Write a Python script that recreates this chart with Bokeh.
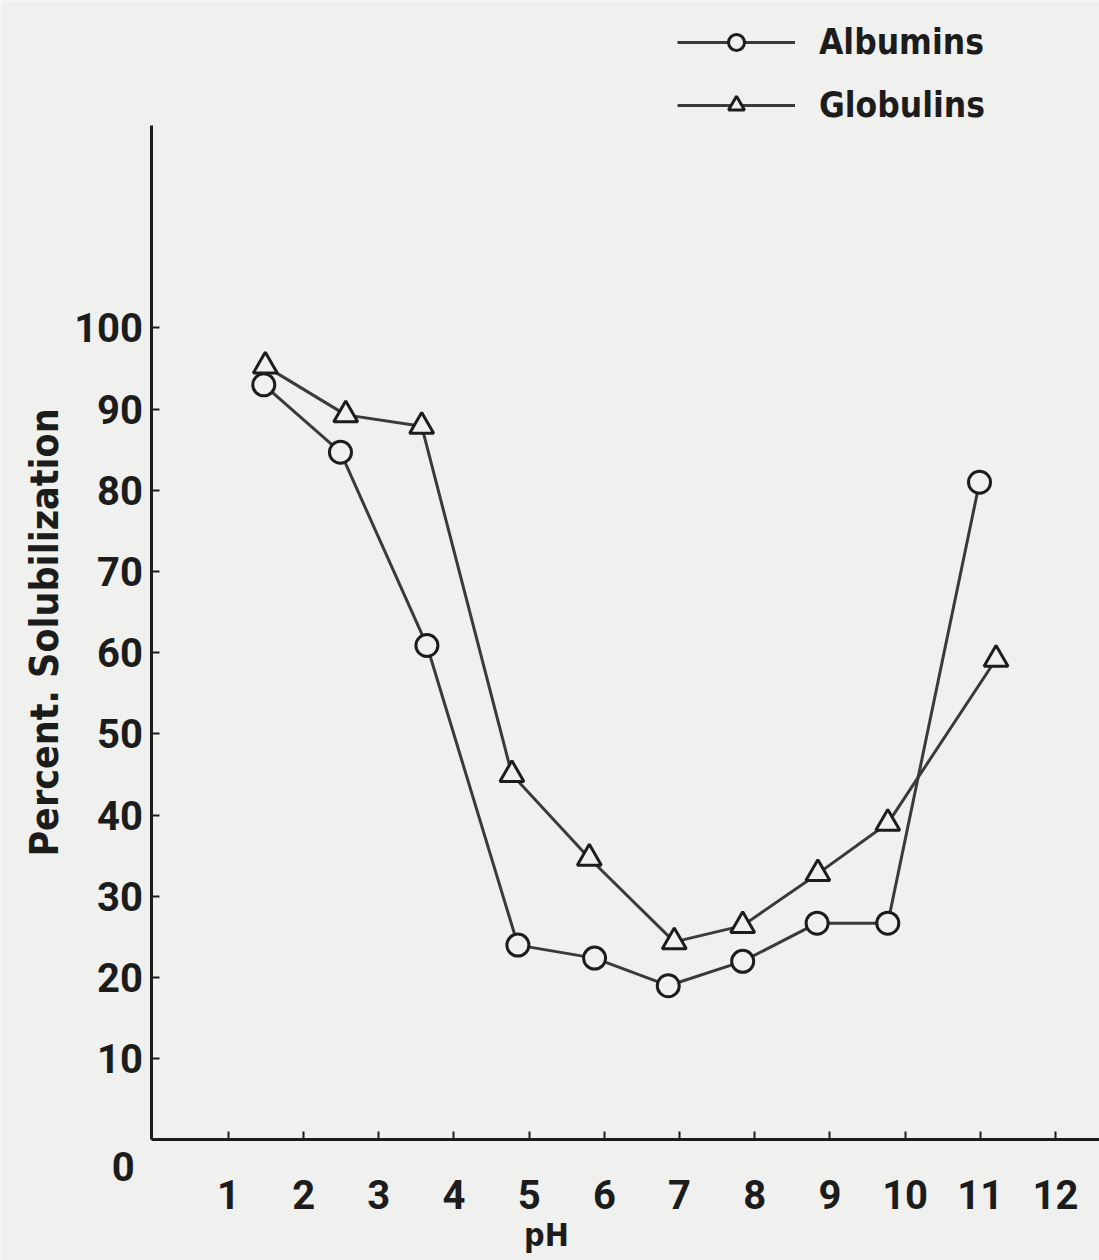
from bokeh.plotting import figure
from bokeh.models import Range1d, FixedTicker, Legend, LegendItem, Label, LinearAxis
from bokeh.embed import file_html
from bokeh.resources import INLINE

# ---- data ----
ph_albumins = [1.47, 2.49, 3.64, 4.85, 5.87, 6.85, 7.84, 8.83, 9.77, 10.99]
albumins = [93.0, 84.7, 60.9, 24.0, 22.4, 19.0, 22.0, 26.7, 26.7, 81.0]

ph_globulins = [1.49, 2.56, 3.57, 4.77, 5.80, 6.93, 7.84, 8.84, 9.77, 11.21]
globulins = [95.3, 89.3, 87.9, 45.0, 34.7, 24.4, 26.4, 32.8, 39.0, 59.2]

x_ticks = [1, 2, 3, 4, 5, 6, 7, 8, 9, 10, 11, 12]
y_ticks = [10, 20, 30, 40, 50, 60, 70, 80, 90, 100]

BG = "#f0f0ee"
INK = "#1c1c1c"
TICK_FONT = "Roboto"
TEXT_FONT = "DejaVu Sans Condensed"

p = figure(width=1099, height=1260, output_backend="svg", toolbar_location=None,
           x_range=Range1d(-2.032, 12.586), y_range=Range1d(-14.84, 140.33),
           x_axis_location=None, y_axis_location=None, min_border=0)
p.background_fill_color = BG
p.border_fill_color = BG
p.outline_line_color = None
p.grid.visible = False

xaxis = LinearAxis(fixed_location=0, bounds=(-0.03, 12.6),
                   ticker=FixedTicker(ticks=x_ticks))
yaxis = LinearAxis(fixed_location=-0.03, bounds=(0, 124.9),
                   ticker=FixedTicker(ticks=y_ticks))
p.add_layout(xaxis, "below")
p.add_layout(yaxis, "left")

for ax in (xaxis, yaxis):
    ax.axis_line_color = INK
    ax.axis_line_width = 3
    ax.major_tick_line_color = INK
    ax.major_tick_line_width = 2
    ax.major_tick_in = 8
    ax.major_tick_out = 0
    ax.minor_tick_line_color = None
    ax.major_label_text_font = TICK_FONT
    ax.major_label_text_font_style = "bold"
    ax.major_label_text_font_size = "40px"
    ax.major_label_text_color = INK

xaxis.major_label_standoff = 40
yaxis.major_label_standoff = 8

yaxis.axis_label = "Percent. Solubilization"
yaxis.axis_label_text_font = TEXT_FONT
yaxis.axis_label_text_font_style = "bold"
yaxis.axis_label_text_font_size = "39px"
yaxis.axis_label_text_color = INK
yaxis.axis_label_standoff = 5

# series
l_alb = p.line(ph_albumins, albumins, line_color="#3a3a3a", line_width=3)
s_alb = p.scatter(ph_albumins, albumins, marker="circle", size=22,
                  fill_color=BG, line_color=INK, line_width=3)
l_glob = p.line(ph_globulins, globulins, line_color="#3a3a3a", line_width=3)
s_glob = p.scatter(ph_globulins, globulins, marker="triangle", size=24,
                   fill_color=BG, line_color=INK, line_width=3)

legend = Legend(items=[LegendItem(label="Albumins", renderers=[l_alb, s_alb]),
                       LegendItem(label="Globulins", renderers=[l_glob, s_glob])],
                location=(677, 1135))
legend.background_fill_alpha = 0
legend.border_line_color = None
legend.label_text_font = TEXT_FONT
legend.label_text_font_style = "bold"
legend.label_text_font_size = "35px"
legend.label_text_color = INK
legend.glyph_width = 118
legend.glyph_height = 40
legend.label_height = 40
legend.label_standoff = 24
legend.spacing = 23
legend.padding = 5
p.add_layout(legend)

p.add_layout(Label(x=5.23, y=-11.64, text="pH", text_align="center",
                   text_baseline="alphabetic", text_font=TEXT_FONT,
                   text_font_style="bold", text_font_size="32px",
                   text_color=INK))
p.add_layout(Label(x=-0.40, y=-3.26, text="0", text_align="center",
                   text_baseline="middle", text_font=TICK_FONT,
                   text_font_style="bold", text_font_size="40px",
                   text_color=INK))

open("out.html", "w").write(file_html(p, INLINE))
